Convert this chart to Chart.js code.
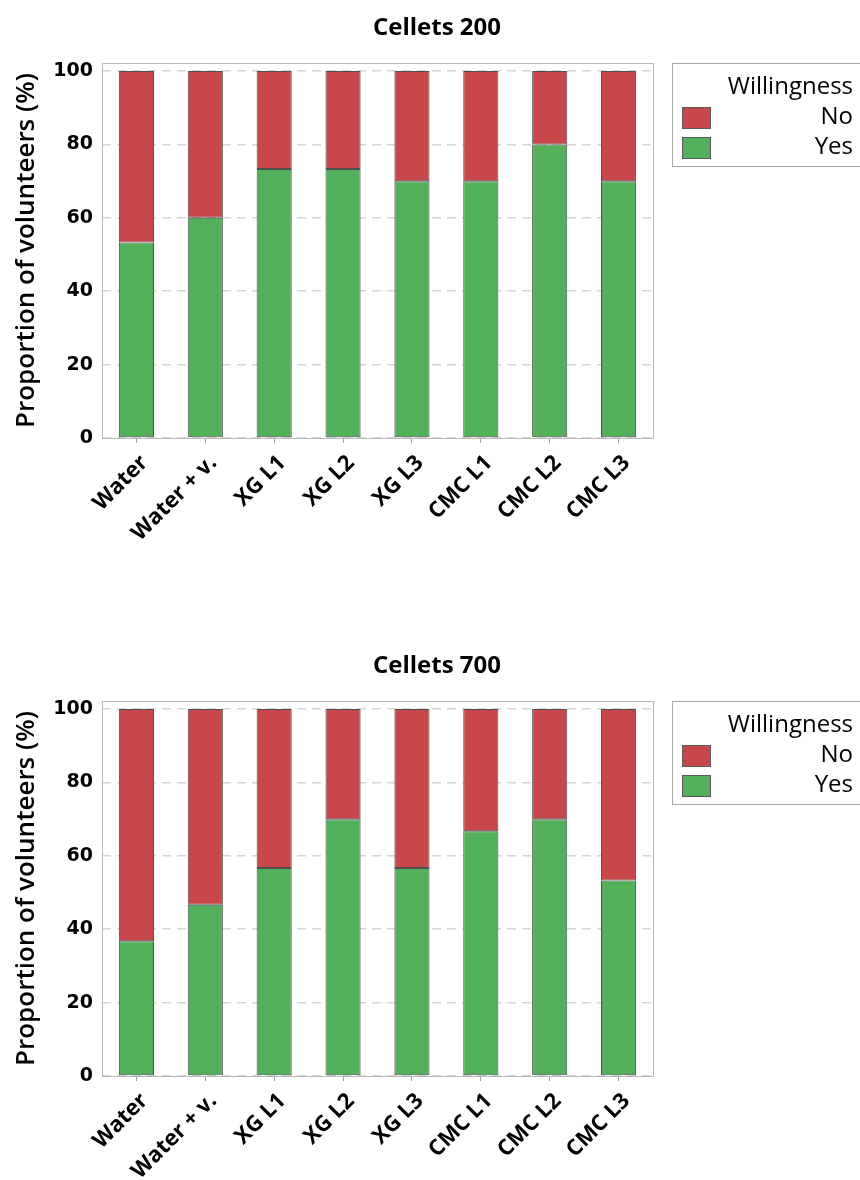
<!DOCTYPE html>
<html>
<head>
<meta charset="utf-8">
<script src="https://cdn.jsdelivr.net/npm/chart.js@4"></script>
<style>
  html, body { margin: 0; padding: 0; background: #fff; }
  body { width: 860px; height: 1180px; overflow: hidden; position: relative; }
  .bloc { position: absolute; left: 0; width: 860px; height: 638px; }
</style>
</head>
<body>
<div class="bloc" style="top:0"><canvas id="c200" width="860" height="638"></canvas></div>
<div class="bloc" style="top:638px"><canvas id="c700" width="860" height="638"></canvas></div>
<script>
var categories = ["Water", "Water + v.", "XG L1", "XG L2", "XG L3", "CMC L1", "CMC L2", "CMC L3"];
var yes200 = [53.3, 60, 73.3, 73.3, 70, 70, 80, 70];
var no200  = [46.7, 40, 26.7, 26.7, 30, 30, 20, 30];
var yes700 = [36.7, 46.7, 56.7, 70, 56.7, 66.7, 70, 53.3];
var no700  = [63.3, 53.3, 43.3, 30, 43.3, 33.3, 30, 46.7];
var yTicks = [0, 20, 40, 60, 80, 100];

var vert  = "#52b05a";
var rouge = "#c8474a";

// cadre gris autour de la zone du graphe + titre centré sur la page
var cadre = {
  id: "cadre",
  afterDraw: function(chart) {
    var a = chart.chartArea, ctx = chart.ctx;
    ctx.save();
    ctx.strokeStyle = "#b8b8b8";
    ctx.lineWidth = 1;
    ctx.strokeRect(Math.round(a.left) + 0.5, Math.round(a.top) + 0.5, Math.round(a.right - a.left), Math.round(a.bottom - a.top));
    ctx.fillStyle = "#000";
    ctx.font = "bold 24px 'Open Sans'";
    ctx.textAlign = "center";
    ctx.textBaseline = "middle";
    ctx.fillText(chart.options.titre, 437, 28);
    ctx.restore();
  }
};

// légende à droite, texte aligné à droite
var legende = {
  id: "legende",
  afterDraw: function(chart) {
    var ctx = chart.ctx;
    var x0 = 672, y0 = 63;
    ctx.save();
    ctx.strokeStyle = "#a8a8a8";
    ctx.lineWidth = 1;
    ctx.strokeRect(x0 + 0.5, y0 + 0.5, 200, 103);
    ctx.fillStyle = "#000";
    ctx.font = "24px 'Open Sans'";
    ctx.textAlign = "right";
    ctx.textBaseline = "middle";
    ctx.fillText("Willingness", 853, 87);
    var ds = chart.data.datasets.slice().reverse();
    ds.forEach(function(d, i) {
      var y = 107 + i * 30;
      ctx.fillStyle = d.backgroundColor;
      ctx.fillRect(682, y, 28, 21);
      ctx.strokeStyle = "#5a5a5a";
      ctx.strokeRect(682.5, y + 0.5, 28, 21);
      ctx.fillStyle = "#000";
      ctx.fillText(d.label, 853, y + 10);
    });
    ctx.restore();
  }
};

function graphe(id, titre, yes, no) {
  new Chart(document.getElementById(id), {
    type: "bar",
    data: {
      labels: categories,
      datasets: [
        { label: "Yes", data: yes, backgroundColor: vert, borderColor: "#505050", borderWidth: 1,
          borderSkipped: false, barPercentage: 0.51, categoryPercentage: 1 },
        { label: "No", data: no, backgroundColor: rouge, borderColor: "#505050", borderWidth: 1,
          borderSkipped: false, barPercentage: 0.51, categoryPercentage: 1 }
      ]
    },
    options: {
      titre: titre,
      responsive: false,
      animation: false,
      layout: { padding: { left: 0, right: 207, top: 63, bottom: 80 } },
      plugins: {
        legend: { display: false },
        tooltip: { enabled: false },
        title: { display: false }
      },
      scales: {
        x: {
          stacked: true,
          border: { display: false },
          grid: { drawOnChartArea: false, drawTicks: true, tickLength: 5, offset: false, color: "#9a9a9a" },
          ticks: {
            autoSkip: false, minRotation: 45, maxRotation: 45, padding: 7, labelOffset: 8, color: "#000",
            font: { family: "'Open Sans'", size: 22, weight: "bold" }
          },
          afterFit: function(axis) { axis.height = 120; }
        },
        y: {
          stacked: true,
          min: 0,
          max: 102.2,
          border: { display: false, dash: [9, 6] },
          grid: { color: "#d6d6d6", lineWidth: 1.5, drawTicks: false },
          ticks: {
            stepSize: 20, padding: 9, color: "#000",
            font: { family: "'DejaVu Sans'", size: 19, weight: "bold" }
          },
          afterBuildTicks: function(axis) {
            axis.ticks = yTicks.map(function(v) { return { value: v }; });
          },
          afterFit: function(axis) { axis.width = 102; },
          title: {
            display: true,
            text: "Proportion of volunteers (%)",
            color: "#000",
            font: { family: "'Open Sans'", size: 26, weight: "600" },
            padding: { top: 11, bottom: 0 }
          }
        }
      }
    },
    plugins: [cadre, legende]
  });
}

graphe("c200", "Cellets 200", yes200, no200);
graphe("c700", "Cellets 700", yes700, no700);
</script>
</body>
</html>
